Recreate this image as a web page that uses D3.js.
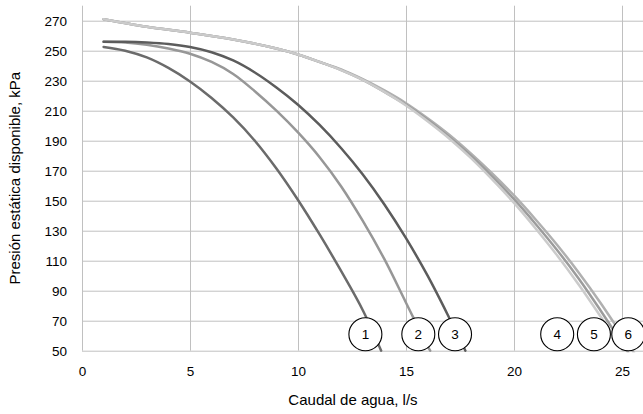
<!DOCTYPE html>
<html>
<head>
<meta charset="utf-8">
<script src="https://cdn.jsdelivr.net/npm/d3@7"></script>
<style>
  body { margin: 0; background: #fff; }
  svg { display: block; }
  .grid line { stroke: #c0c0c0; stroke-width: 1; }
  .grid path { display: none; }
  .tick text { font-family: "Liberation Sans", Arial, sans-serif; font-size: 13.5px; fill: #000; }
  .title { font-family: "Liberation Sans", Arial, sans-serif; font-size: 15px; fill: #000; }
  .tag text { font-family: "Liberation Sans", Arial, sans-serif; font-size: 13.5px; fill: #000; }
</style>
</head>
<body>
<script>
const yTicks = [50, 70, 90, 110, 130, 150, 170, 190, 210, 230, 250, 270];
const xTicks = [0, 5, 10, 15, 20, 25];

// curve 1
const q1 = [1, 2, 3, 4, 5, 6, 7, 8, 9, 10, 11, 12, 13, 13.85];
const p1 = [252.5, 250, 245.5, 238.5, 229.5, 218.5, 205.5, 190, 171.5, 150.5, 127.5, 103, 77, 50];
// curve 2
const q2 = [1, 2, 3, 4, 5, 6, 7, 8, 9, 10, 11, 12, 13, 14, 15, 16, 16.12];
const p2 = [256, 255.5, 254, 251.5, 248, 242.5, 234.5, 223, 210, 195.5, 179, 159.5, 136.5, 111, 82, 53, 50];
// curve 3
const q3 = [1, 2, 3, 4, 5, 6, 7, 8, 9, 10, 11, 12, 13, 14, 15, 16, 17, 17.75];
const p3 = [256, 256, 255.5, 254.5, 252.5, 249, 243.5, 235.5, 225.5, 214, 200.5, 185, 167.5, 147.5, 125, 100, 72, 50];
// curve 4
const q4 = [1, 3, 5, 7, 9, 10, 11, 12, 13, 14, 15, 16, 17, 18, 19, 20, 21, 22, 23, 24, 25.05];
const p4 = [271, 266, 262, 257.5, 251.5, 247.5, 242.5, 237, 230.5, 222.5, 213.5, 203, 191.5, 178.5, 164, 148.5, 131.5, 113.5, 94, 73, 50];
// curve 5
const q5 = [1, 3, 5, 7, 9, 10, 11, 12, 13, 14, 15, 16, 17, 18, 19, 20, 21, 22, 23, 24, 25, 25.45];
const p5 = [271, 266, 262, 257.5, 251.5, 247.5, 242.5, 237, 230.5, 222.5, 214, 204, 192.5, 180, 166, 151, 134.5, 117, 98, 77, 55, 45];
// curve 6
const q6 = [1, 3, 5, 7, 9, 10, 11, 12, 13, 14, 15, 16, 17, 18, 19, 20, 21, 22, 23, 24, 25, 25.9];
const p6 = [271, 266, 262, 257.5, 251.5, 247.5, 242.5, 237.5, 231, 223.5, 215, 205, 194, 181.5, 168, 153.5, 137.5, 120.5, 102, 82, 60.5, 41];

const labelText = ["1", "2", "3", "4", "5", "6"];
const labelQ = [13.12, 15.57, 17.27, 22.0, 23.7, 25.29];
const labelP = [61, 61, 61, 61, 61, 61];

const W = 643, H = 414;
const margin = { top: 5.7, left: 82, bottom: 63.3 };

const x = d3.scaleLinear().domain([0, 26]).range([margin.left, 643.6]);
const y = d3.scaleLinear().domain([50, 280]).range([H - margin.bottom, margin.top]);

const svg = d3.select("body").append("svg")
  .attr("width", W)
  .attr("height", H);

svg.append("defs").append("clipPath")
  .attr("id", "plot-clip")
  .append("rect")
  .attr("x", x(0))
  .attr("y", y(280))
  .attr("width", x(26) - x(0))
  .attr("height", y(50) - y(280) + 1.5);

// gridlines + tick labels
const plotW = x(26) - x(0);
const plotH = y(50) - y(280);

svg.append("g")
  .attr("class", "grid")
  .attr("transform", `translate(${x(0)},0)`)
  .call(d3.axisLeft(y).tickValues(yTicks).tickSize(-plotW).tickPadding(15));

svg.append("g")
  .attr("class", "grid")
  .attr("transform", `translate(0,${y(50)})`)
  .call(d3.axisBottom(x).tickValues(xTicks).tickSize(-plotH).tickPadding(16));

// axis titles
svg.append("text")
  .attr("class", "title")
  .attr("text-anchor", "middle")
  .attr("x", 353)
  .attr("y", 405)
  .text("Caudal de agua, l/s");

svg.append("text")
  .attr("class", "title")
  .attr("text-anchor", "middle")
  .attr("transform", `translate(20,${(y(50) + y(280)) / 2})rotate(-90)`)
  .text("Presión estática disponible, kPa");

// curves
const series = [
  { q: q6, p: p6, color: "#b0b0b0" },
  { q: q5, p: p5, color: "#9c9c9c" },
  { q: q4, p: p4, color: "#cbcbcb" },
  { q: q1, p: p1, color: "#6b6b6b" },
  { q: q2, p: p2, color: "#979797" },
  { q: q3, p: p3, color: "#5c5c5c" }
];

const line = d3.line()
  .x(d => x(d[0]))
  .y(d => y(d[1]))
  .curve(d3.curveCatmullRom.alpha(0.5));

svg.append("g")
  .attr("clip-path", "url(#plot-clip)")
  .selectAll("path")
  .data(series)
  .enter()
  .append("path")
  .attr("d", s => line(s.q.map((v, i) => [v, s.p[i]])))
  .attr("fill", "none")
  .attr("stroke", s => s.color)
  .attr("stroke-width", 2.5)
  .attr("stroke-linecap", "round");

// numbered circles
const tags = svg.selectAll(".tag")
  .data(labelText)
  .enter()
  .append("g")
  .attr("class", "tag")
  .attr("transform", (d, i) => `translate(${x(labelQ[i])},${y(labelP[i])})`);

tags.append("circle")
  .attr("r", 16.5)
  .attr("fill", "#fff")
  .attr("stroke", "#000")
  .attr("stroke-width", 1.1);

tags.append("text")
  .attr("text-anchor", "middle")
  .attr("dy", "0.36em")
  .text(d => d);
</script>
</body>
</html>
